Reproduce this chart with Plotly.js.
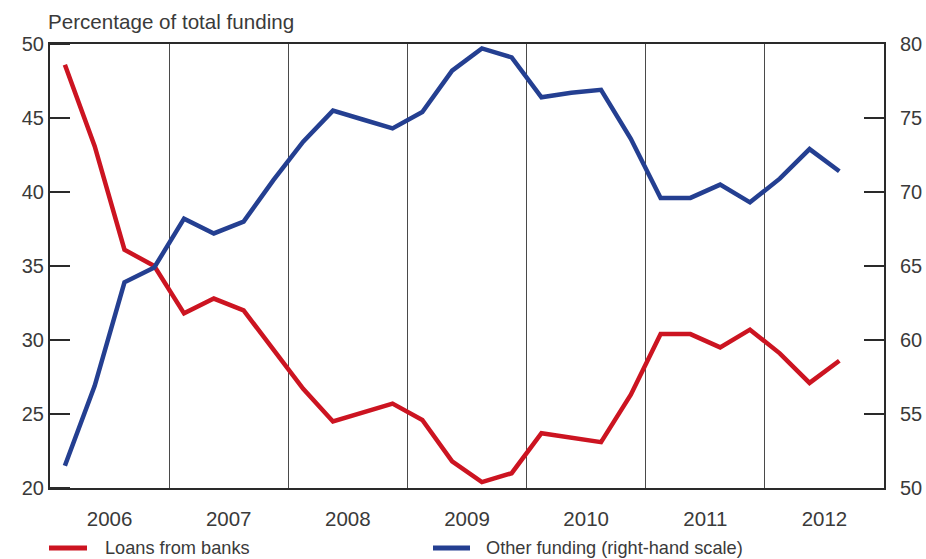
<!DOCTYPE html>
<html>
<head>
<meta charset="utf-8">
<script src="https://cdn.plot.ly/plotly-3.0.1.min.js"></script>
<style>html,body{margin:0;padding:0;background:#fff;}#chart{width:926px;height:559px;}</style>
</head>
<body>
<div id="chart"></div>
<script>
// Quarterly observations, 2006 Q1 – 2012 Q3 (quarter index 0..26)
var quarterIndex = [0,1,2,3,4,5,6,7,8,9,10,11,12,13,14,15,16,17,18,19,20,21,22,23,24,25,26];
var loansFromBanks = [48.6,43.1,36.1,35.0,31.8,32.8,32.0,29.4,26.7,24.5,25.1,25.7,24.6,21.8,20.4,21.0,23.7,23.4,23.1,26.3,30.4,30.4,29.5,30.7,29.1,27.1,28.6];
var otherFunding = [51.5,56.9,63.9,64.9,68.2,67.2,68.0,70.8,73.4,75.5,74.9,74.3,75.4,78.2,79.7,79.1,76.4,76.7,76.9,73.6,69.6,69.6,70.5,69.3,70.9,72.9,71.4];
var yearLabels = ['2006','2007','2008','2009','2010','2011','2012'];
var yearCentres = [1.5,5.5,9.5,13.5,17.5,21.5,25.5];
var yearBoundaries = [3.5,7.5,11.5,15.5,19.5,23.5];
var leftTicks = [20,25,30,35,40,45,50];
var seriesNames = ['Loans from banks', 'Other funding (right-hand scale)'];

var FONT = 'Liberation Sans, Arial, sans-serif';
var TXT = '#3a3a3a';
var RED = '#cc1421';
var BLUE = '#243f91';
var AX = '#2a2a2a';

var X_RANGE = [-0.5, 27.5];
var PLOT_W = 834;
var tickLenData = 20 * (X_RANGE[1] - X_RANGE[0]) / PLOT_W;

// inside tick marks of the left-hand scale, built from the tick values
var tickX = [], tickY = [];
leftTicks.forEach(function (v) {
  tickX.push(X_RANGE[0], X_RANGE[0] + tickLenData, null);
  tickY.push(v, v, null);
});

var traces = [
  {x: quarterIndex, y: loansFromBanks, type: 'scatter', mode: 'lines', name: seriesNames[0],
   line: {color: RED, width: 4.5}, yaxis: 'y'},
  {x: quarterIndex, y: otherFunding, type: 'scatter', mode: 'lines', name: seriesNames[1],
   line: {color: BLUE, width: 4.5}, yaxis: 'y2'},
  {x: tickX, y: tickY, type: 'scatter', mode: 'lines', showlegend: false, hoverinfo: 'skip',
   line: {color: AX, width: 2}, yaxis: 'y2', connectgaps: false}
];
// tick trace is plotted on the overlay axis, so map the left values onto the right scale
traces[2].y = tickY.map(function (v) { return v === null ? null : v + 30; });

// legend (key swatches + labels below the plot)
var LY = -0.135;
function px2x(p) { return (p - 50) / PLOT_W; }
var shapes = [
  {type: 'line', xref: 'paper', yref: 'paper', x0: px2x(49), x1: px2x(87), y0: LY, y1: LY, line: {color: RED, width: 5}},
  {type: 'line', xref: 'paper', yref: 'paper', x0: px2x(433), x1: px2x(470), y0: LY, y1: LY, line: {color: BLUE, width: 5}}
];
var annotations = [
  {xref: 'paper', yref: 'paper', x: px2x(103), y: LY, xanchor: 'left', yanchor: 'middle', showarrow: false,
   text: seriesNames[0], font: {family: FONT, size: 18.2, color: TXT}},
  {xref: 'paper', yref: 'paper', x: px2x(484), y: LY, xanchor: 'left', yanchor: 'middle', showarrow: false,
   text: seriesNames[1], font: {family: FONT, size: 18.2, color: TXT}}
];

var layout = {
  width: 926, height: 559,
  margin: {l: 50, r: 42, t: 44, b: 71},
  paper_bgcolor: '#fff', plot_bgcolor: '#fff',
  font: {family: FONT, color: TXT, size: 20},
  title: {text: 'Percentage of total funding', font: {family: FONT, size: 20.6, color: TXT},
          x: 48/926, xref: 'container', xanchor: 'left', y: 1 - 22/559, yref: 'container', yanchor: 'middle'},
  showlegend: false,
  shapes: shapes,
  annotations: annotations,
  xaxis: {range: X_RANGE, showgrid: false, zeroline: false,
          showline: true, linecolor: AX, linewidth: 2, mirror: true,
          tickmode: 'array', tickvals: yearCentres, ticktext: yearLabels, ticks: '',
          ticklabelstandoff: 11, tickfont: {family: FONT, size: 20.5, color: TXT},
          minor: {tickmode: 'array', tickvals: yearBoundaries, showgrid: true, gridcolor: '#4a4a4a', gridwidth: 1.2, ticks: ''},
          fixedrange: true},
  yaxis: {range: [20, 50], tickmode: 'array', tickvals: leftTicks, showgrid: false, zeroline: false,
          showline: true, linecolor: AX, linewidth: 2,
          ticks: 'inside', ticklen: 20, tickwidth: 2, tickcolor: AX, ticksuffix: '\u2002',
          tickfont: {family: FONT, size: 20, color: TXT}, fixedrange: true},
  yaxis2: {range: [50, 80], tickmode: 'linear', dtick: 5, tick0: 50, overlaying: 'y', side: 'right', showgrid: false, zeroline: false,
           showline: true, linecolor: AX, linewidth: 2,
           ticks: 'inside', ticklen: 20, tickwidth: 2, tickcolor: AX, tickprefix: '\u2002',
           tickfont: {family: FONT, size: 20, color: TXT}, fixedrange: true}
};

Plotly.newPlot('chart', traces, layout, {displayModeBar: false, staticPlot: true});
</script>
</body>
</html>
